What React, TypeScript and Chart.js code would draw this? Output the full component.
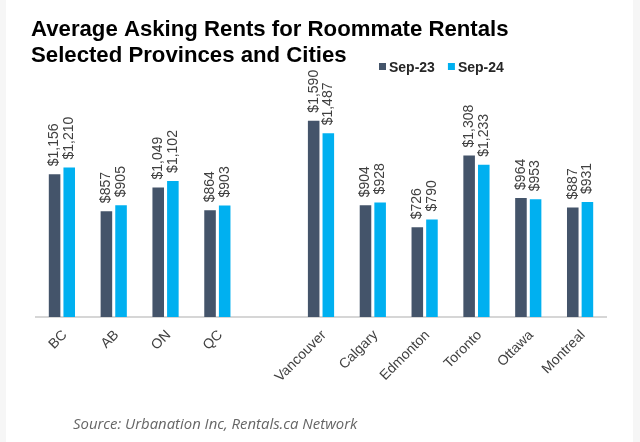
import React, { useEffect, useRef } from "react";
import { Chart, registerables } from "chart.js";

Chart.register(...registerables);

const categories = ["BC", "AB", "ON", "QC", "", "Vancouver", "Calgary", "Edmonton", "Toronto", "Ottawa", "Montreal"];
const sep23 = [1156, 857, 1049, 864, null, 1590, 904, 726, 1308, 964, 887];
const sep24 = [1210, 905, 1102, 903, null, 1487, 928, 790, 1233, 953, 931];
const seriesNames = ["Sep-23", "Sep-24"];
const seriesColors = ["#44546A", "#00B0F0"];
const titleLines = ["Average Asking Rents for Roommate Rentals", "Selected Provinces and Cities"];
const sourceText = "Source: Urbanation Inc, Rentals.ca Network";

const FONT = "'Liberation Sans', Arial, sans-serif";

const decorPlugin = {
  id: "decor",
  beforeDraw(chart: any) {
    const { ctx, width, height } = chart;
    ctx.save();
    ctx.fillStyle = "#f6f6f6";
    ctx.fillRect(0, 0, width, height);
    ctx.fillStyle = "#ffffff";
    ctx.fillRect(6, 0, 627, height);
    ctx.restore();
  },
  afterDraw(chart: any) {
    const { ctx } = chart;
    ctx.save();
    // title
    ctx.fillStyle = "#000000";
    ctx.font = `bold 22.2px ${FONT}`;
    ctx.textAlign = "left";
    ctx.textBaseline = "alphabetic";
    ctx.fillText(titleLines[0], 31, 36);
    ctx.fillText(titleLines[1], 31, 61.5);
    // legend
    ctx.font = `bold 14px ${FONT}`;
    let x = 379;
    chart.data.datasets.forEach((ds: any) => {
      ctx.fillStyle = ds.backgroundColor;
      ctx.fillRect(x, 63, 7, 7);
      ctx.fillStyle = "#262626";
      ctx.fillText(ds.label, x + 10, 71.5);
      x += 10 + ctx.measureText(ds.label).width + 13;
    });
    // source
    ctx.font = `italic 14.9px 'Open Sans', Lato, sans-serif`;
    ctx.fillStyle = "#666666";
    ctx.fillText(sourceText, 73, 429);
    ctx.restore();
  },
  afterDatasetsDraw(chart: any) {
    const { ctx } = chart;
    ctx.save();
    ctx.font = `14px ${FONT}`;
    ctx.fillStyle = "#404040";
    ctx.textAlign = "left";
    ctx.textBaseline = "middle";
    chart.data.datasets.forEach((ds: any, di: number) => {
      const meta = chart.getDatasetMeta(di);
      meta.data.forEach((el: any, i: number) => {
        const v = ds.data[i];
        if (v === null || v === undefined) return;
        ctx.save();
        ctx.translate(el.x, el.y - 8);
        ctx.rotate(-Math.PI / 2);
        ctx.fillText("$" + v.toLocaleString("en-US"), 0, 0);
        ctx.restore();
      });
    });
    ctx.restore();
  },
};

export default function App() {
  const ref = useRef<HTMLCanvasElement | null>(null);
  useEffect(() => {
    if (!ref.current) return;
    const chart = new Chart(ref.current, {
      type: "bar",
      data: {
        labels: categories,
        datasets: [
          { label: seriesNames[0], data: sep23, backgroundColor: seriesColors[0] },
          { label: seriesNames[1], data: sep24, backgroundColor: seriesColors[1] },
        ],
      },
      options: {
        responsive: false,
        animation: false,
        devicePixelRatio: 1,
        categoryPercentage: 0.565,
        barPercentage: 0.79,
        layout: { padding: { left: 36, right: 34, top: 70, bottom: 0 } },
        plugins: { legend: { display: false }, title: { display: false }, tooltip: { enabled: false } },
        scales: {
          x: {
            grid: { display: false, drawTicks: false },
            border: { display: true, color: "#d6d6d6", width: 2 },
            ticks: {
              autoSkip: false,
              maxRotation: 45,
              minRotation: 45,
              padding: 10,
              labelOffset: 3,
              color: "#404040",
              font: { family: FONT, size: 14 },
            },
            afterFit: (scale: any) => {
              scale.height = 125;
            },
          },
          y: { display: false, min: 0, max: 2000 },
        },
      },
      plugins: [decorPlugin],
    } as any);
    return () => chart.destroy();
  }, []);
  return (
    <div style={{ position: "fixed", left: 0, top: 0, width: 640, height: 442, background: "#fff" }}>
      <canvas ref={ref} width={640} height={442} style={{ display: "block" }} />
    </div>
  );
}
